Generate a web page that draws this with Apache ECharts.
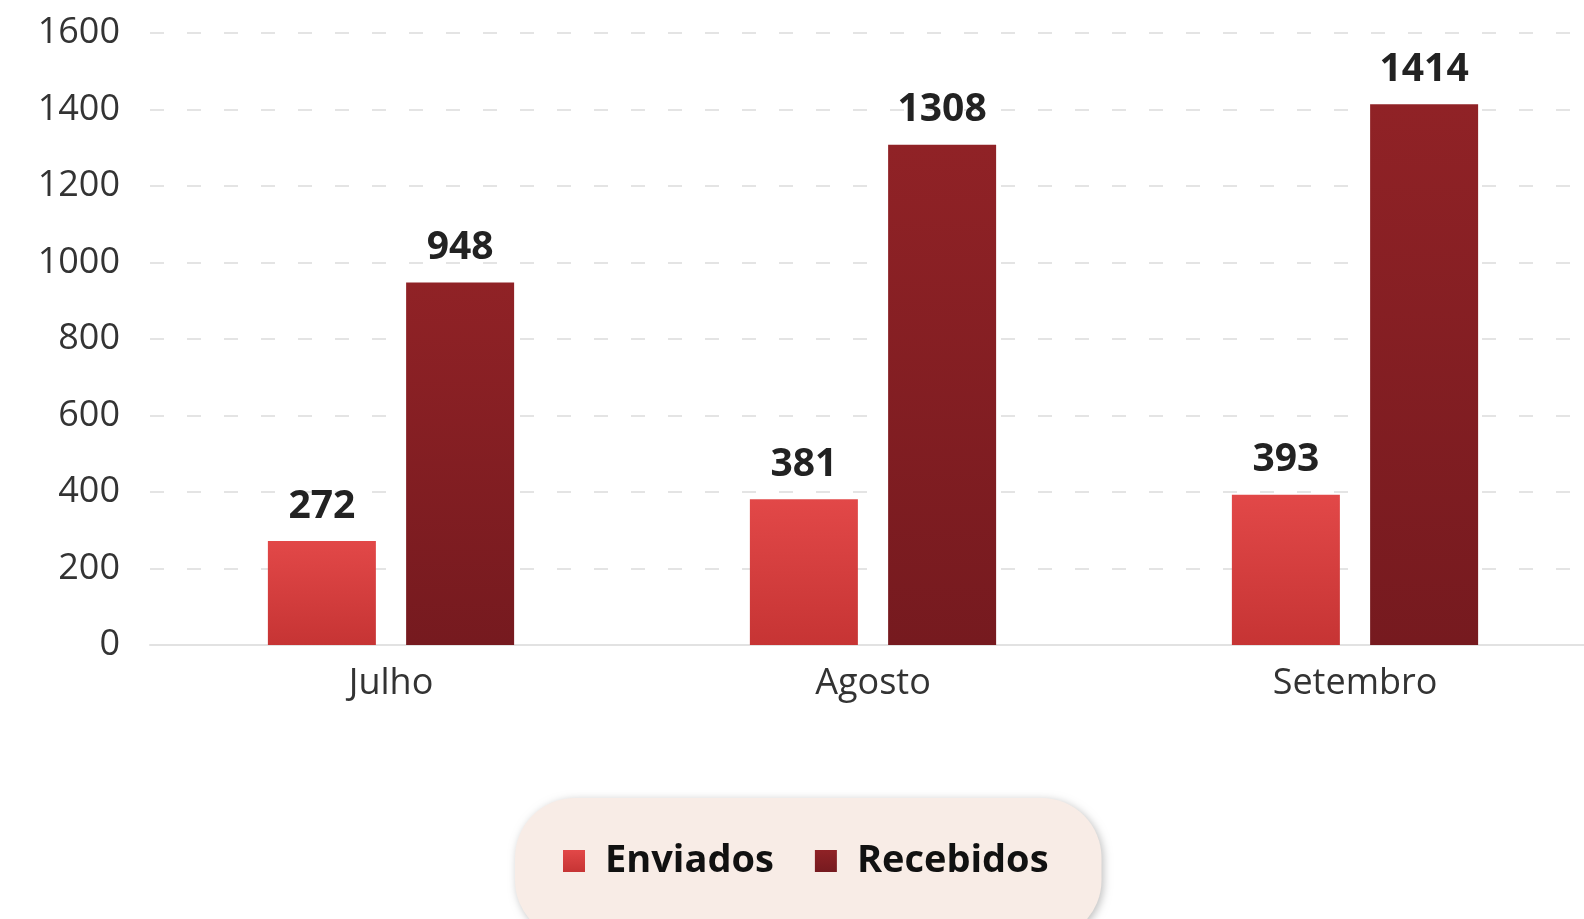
<!DOCTYPE html>
<html>
<head>
<meta charset="utf-8">
<script src="https://cdn.jsdelivr.net/npm/echarts@6/dist/echarts.min.js"></script>
<style>
    html, body {margin:0;padding:0;background:#ffffff;}
    #grafico {width:1584px;height:919px;}
</style>
</head>
<body>
<div id="grafico"></div>
<script>
    // dados do gráfico
    var meses = ['Julho', 'Agosto', 'Setembro'];
    var enviados = [272, 381, 393];
    var recebidos = [948, 1308, 1414];
    var nomesSeries = ['Enviados', 'Recebidos'];

    var fonte = '"Open Sans", Lato, sans-serif';

    function gradiente(topo, base) {
        return new echarts.graphic.LinearGradient(0, 0, 0, 1, [
            {offset: 0, color: topo},
            {offset: 1, color: base}
        ]);
    }

    var grafico = echarts.init(document.getElementById('grafico'));

    var rotulo = {
        show: true,
        position: 'top',
        distance: 15,
        color: '#222222',
        fontFamily: fonte,
        fontWeight: 'bold',
        fontSize: 39
    };

    var opcao = {
        animation: false,
        grid: {
            left: 150,
            top: 33,
            width: 1446,
            height: 612,
            outerBoundsMode: 'none'
        },
        legend: {
            data: nomesSeries,
            left: 515,
            top: 798,
            itemWidth: 22,
            itemHeight: 22,
            itemGap: 41,
            icon: 'rect',
            padding: [44, 53, 60, 48],
            backgroundColor: '#f8ece6',
            borderRadius: 60,
            shadowBlur: 8,
            shadowColor: 'rgba(0,0,0,0.25)',
            shadowOffsetX: 2,
            shadowOffsetY: 2,
            textStyle: {
                color: '#111111',
                fontFamily: fonte,
                fontWeight: 'bold',
                fontSize: 38,
                padding: [0, 0, 0, 15]
            }
        },
        xAxis: {
            type: 'category',
            data: meses,
            axisLine: {lineStyle: {color: '#e2e2e2', width: 2}},
            axisTick: {show: false},
            axisLabel: {
                color: '#333333',
                fontFamily: fonte,
                fontSize: 36,
                margin: 21
            }
        },
        yAxis: {
            type: 'value',
            min: 0,
            max: 1600,
            interval: 200,
            axisLine: {show: false},
            axisTick: {show: false},
            axisLabel: {
                color: '#333333',
                fontFamily: fonte,
                fontSize: 36,
                margin: 30,
                padding: [4, 0, 0, 0],
                formatter: function (v) { return String(v); }
            },
            splitLine: {
                lineStyle: {color: '#e4e4e4', width: 2, type: [14, 23]}
            }
        },
        series: [
            {
                name: nomesSeries[0],
                type: 'bar',
                data: enviados,
                barWidth: 108,
                barGap: '28%',
                itemStyle: {color: gradiente('#e24848', '#c63434')},
                label: rotulo
            },
            {
                name: nomesSeries[1],
                type: 'bar',
                data: recebidos,
                barWidth: 108,
                itemStyle: {color: gradiente('#902226', '#761a1f')},
                label: rotulo
            }
        ]
    };

    grafico.setOption(opcao);

    window.onresize = function () {
        grafico.resize();
    };
</script>
</body>
</html>
